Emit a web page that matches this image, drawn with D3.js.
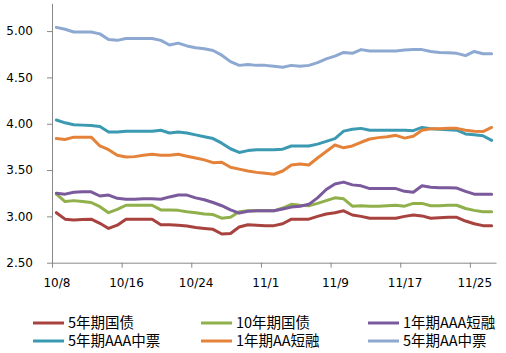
<!DOCTYPE html>
<html>
<head>
<meta charset="utf-8">
<script src="https://cdn.jsdelivr.net/npm/d3@7"></script>
<style>
  body { margin: 0; background: #fff; }
  svg { display: block; }
  .axis text { font-family: "DejaVu Sans", sans-serif; font-size: 12px; fill: #000; }
  .axis path, .axis line { stroke: #888; }
  .legend text { font-family: "Noto Sans CJK SC", sans-serif; font-size: 14.5px; fill: #000; }
</style>
</head>
<body>
<svg id="chart" width="506" height="353"></svg>
<script>
// daily points, 10/8 .. 11/27
const START = new Date(2019, 9, 8);
const END   = new Date(2019, 10, 28);
const days  = d3.timeDay.range(START, END);

const tickLabels = ['10/8', '10/16', '10/24', '11/1', '11/9', '11/17', '11/25'];
const yTicks = [2.5, 3.0, 3.5, 4.0, 4.5, 5.0];

const gov5 = [3.04,2.97,2.96,2.965,2.97,2.925,2.87,2.905,2.97,2.97,2.97,2.97,2.91,2.91,2.905,2.895,2.88,2.87,2.86,2.81,2.815,2.885,2.91,2.905,2.90,2.90,2.92,2.97,2.97,2.97,3.00,3.025,3.04,3.06,3.015,3.00,2.98,2.98,2.98,2.98,3.00,3.015,3.005,2.98,2.985,2.99,2.99,2.95,2.92,2.90,2.90];
const gov10 = [3.24,3.16,3.17,3.16,3.15,3.105,3.04,3.075,3.12,3.12,3.12,3.12,3.07,3.07,3.065,3.05,3.04,3.025,3.02,2.98,2.99,3.05,3.06,3.06,3.06,3.06,3.09,3.13,3.12,3.115,3.14,3.17,3.20,3.19,3.11,3.115,3.11,3.11,3.115,3.12,3.11,3.14,3.14,3.115,3.115,3.12,3.12,3.085,3.065,3.05,3.05];
const cpAAA1 = [3.25,3.24,3.26,3.265,3.265,3.22,3.23,3.195,3.185,3.185,3.19,3.19,3.185,3.21,3.23,3.23,3.20,3.18,3.15,3.115,3.07,3.035,3.055,3.06,3.06,3.06,3.08,3.10,3.11,3.13,3.20,3.29,3.35,3.37,3.34,3.33,3.30,3.30,3.30,3.30,3.27,3.26,3.33,3.315,3.31,3.31,3.305,3.27,3.24,3.24,3.24];
const mtnAAA5 = [4.04,4.01,3.99,3.985,3.98,3.97,3.91,3.91,3.92,3.92,3.92,3.92,3.93,3.90,3.91,3.90,3.88,3.86,3.84,3.79,3.73,3.69,3.71,3.72,3.72,3.72,3.725,3.76,3.76,3.76,3.78,3.81,3.84,3.92,3.94,3.95,3.93,3.93,3.93,3.93,3.93,3.925,3.96,3.945,3.94,3.935,3.93,3.89,3.88,3.87,3.82];
const cpAA1 = [3.84,3.83,3.855,3.855,3.855,3.76,3.72,3.66,3.64,3.645,3.66,3.67,3.66,3.66,3.67,3.65,3.63,3.61,3.58,3.585,3.53,3.51,3.49,3.475,3.465,3.455,3.49,3.555,3.565,3.555,3.63,3.70,3.77,3.74,3.76,3.80,3.835,3.85,3.86,3.875,3.845,3.865,3.93,3.945,3.945,3.95,3.95,3.93,3.92,3.915,3.96];
const mtnAA5 = [5.04,5.02,4.99,4.99,4.99,4.97,4.91,4.90,4.92,4.92,4.92,4.92,4.90,4.85,4.87,4.84,4.82,4.81,4.79,4.74,4.67,4.63,4.64,4.63,4.63,4.62,4.61,4.63,4.62,4.63,4.66,4.70,4.73,4.77,4.76,4.80,4.785,4.785,4.785,4.785,4.795,4.80,4.80,4.78,4.77,4.765,4.76,4.735,4.78,4.755,4.755];

const SERIES = [
  { name: '5年期国债',    values: gov5,    color: '#a8423e' },
  { name: '10年期国债',   values: gov10,   color: '#8fb04b' },
  { name: '1年期AAA短融', values: cpAAA1,  color: '#7a5a9c' },
  { name: '5年期AAA中票', values: mtnAAA5, color: '#3b9ab2' },
  { name: '1年期AA短融',  values: cpAA1,   color: '#e4823a' },
  { name: '5年期AA中票',  values: mtnAA5,  color: '#8ea9d1' }
];

const svg = d3.select('#chart');
const X0 = 52, X1 = 496, Y0 = 262.7, Y1 = 3.3;

const x = d3.scaleTime().domain([START, END]).range([X0, X1]);
const y = d3.scaleLinear().domain([2.5, 5.3]).range([Y0, Y1]);
const halfDay = (x(d3.timeDay.offset(START, 1)) - x(START)) / 2;

// ── Axes ──────────────────────────────────────────────────────────
const tickDates = tickLabels.map(t => {
  const [m, d] = t.split('/').map(Number);
  return new Date(2019, m - 1, d);
});

const xAxis = svg.append('g').attr('class', 'axis')
  .attr('transform', `translate(0,${Y0})`)
  .call(d3.axisBottom(x).tickValues(tickDates)
    .tickFormat((d, i) => tickLabels[i]).tickSize(5).tickSizeOuter(0));
xAxis.selectAll('text').attr('x', halfDay).attr('dy', '1.35em');

svg.append('g').attr('class', 'axis')
  .attr('transform', `translate(${X0},0)`)
  .call(d3.axisLeft(y).tickValues(yTicks).tickFormat(d3.format('.2f'))
    .tickSize(5).tickSizeOuter(0).tickPadding(14));

// ── Lines ─────────────────────────────────────────────────────────
const line = d3.line()
  .x((d, i) => x(days[i]) + halfDay)
  .y(d => y(d));

svg.append('g').selectAll('path')
  .data(SERIES)
  .join('path')
  .attr('fill', 'none')
  .attr('stroke', s => s.color)
  .attr('stroke-width', 3)
  .attr('stroke-linejoin', 'round')
  .attr('stroke-linecap', 'round')
  .attr('d', s => line(s.values));

// ── Legend ────────────────────────────────────────────────────────
const legX = [33, 201, 368];
const legY = [323, 341];
const leg = svg.append('g').attr('class', 'legend')
  .selectAll('g').data(SERIES).join('g')
  .attr('transform', (s, i) => `translate(${legX[i % 3]},${legY[Math.floor(i / 3)]})`);
leg.append('line')
  .attr('x1', 0).attr('x2', 31)
  .attr('stroke', s => s.color).attr('stroke-width', 3);
leg.append('text')
  .attr('x', 35).attr('dy', '0.35em')
  .text(s => s.name);
</script>
</body>
</html>
